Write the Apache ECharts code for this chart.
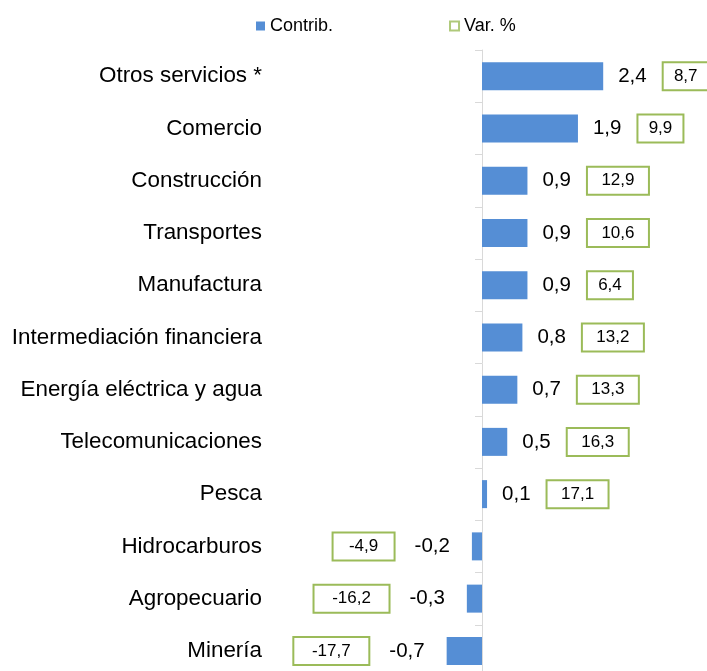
<!DOCTYPE html>
<html>
<head>
<meta charset="utf-8">
<script src="https://cdn.jsdelivr.net/npm/echarts@6/dist/echarts.min.js"></script>
<style>
  html, body { margin: 0; padding: 0; background: #fff; overflow: hidden; }
  #chart { width: 707px; height: 680px; }
</style>
</head>
<body>
<div id="chart"></div>
<script>
// sectores, de arriba hacia abajo
var sectores = ['Otros servicios *', 'Comercio', 'Construcción', 'Transportes', 'Manufactura',
  'Intermediación financiera', 'Energía eléctrica y agua', 'Telecomunicaciones', 'Pesca',
  'Hidrocarburos', 'Agropecuario', 'Minería'];
// contribución (puntos porcentuales)
var contrib = [2.4, 1.9, 0.9, 0.9, 0.9, 0.8, 0.7, 0.5, 0.1, -0.2, -0.3, -0.7];
// variación %
var variacion = [8.7, 9.9, 12.9, 10.6, 6.4, 13.2, 13.3, 16.3, 17.1, -4.9, -16.2, -17.7];

var AZUL = '#558ED5';
var VERDE = '#9BBB59';
var FUENTE = "'Liberation Sans', Arial, sans-serif";

const fmt = v => v.toFixed(1).replace('.', ',');

// caja de la variación, ancho segun el largo del texto
function caja(w) {
  return {
    fontSize: 17, fontFamily: FUENTE, color: '#000',
    borderColor: VERDE, borderWidth: 2,
    width: w, align: 'center', verticalAlign: 'middle',
    height: 24, lineHeight: 24, padding: [2, 11]
  };
}

const chart = echarts.init(document.getElementById('chart'));

const option = {
  animation: false,
  textStyle: { fontFamily: FUENTE },
  legend: {
    left: 251,
    top: 12,
    itemGap: 116,
    itemWidth: 9,
    itemHeight: 9,
    textStyle: { fontSize: 18, color: '#000', fontFamily: FUENTE },
    data: [
      { name: 'Contrib.', icon: 'rect', itemStyle: { color: AZUL } },
      { name: 'Var. %', icon: 'rect', itemStyle: { color: '#fff', borderColor: VERDE, borderWidth: 2 } }
    ]
  },
  grid: { left: 280, width: 404, top: 50, height: 627 },
  xAxis: {
    type: 'value',
    min: -4,
    max: 4,
    show: false
  },
  yAxis: [
    {
      // etiquetas a la izquierda del area
      type: 'category',
      data: sectores,
      inverse: true,
      axisLine: { show: false, onZero: false },
      axisTick: { show: false },
      axisLabel: { margin: 18, fontSize: 22.4, color: '#000', fontFamily: FUENTE }
    },
    {
      // eje en cero con marcas
      type: 'category',
      data: sectores,
      inverse: true,
      position: 'left',
      axisLine: { show: true, onZero: true, lineStyle: { color: '#D9D9D9', width: 1 } },
      axisTick: { show: true, length: 7, lineStyle: { color: '#D9D9D9' } },
      axisLabel: { show: false }
    }
  ],
  series: [
    {
      name: 'Contrib.',
      type: 'bar',
      barWidth: 28,
      itemStyle: { color: AZUL },
      data: contrib.map((v, i) => ({
        value: v,
        label: {
          show: true,
          position: v >= 0 ? 'right' : 'left',
          distance: v >= 0 ? 15 : 22,
          formatter: () => {
            const t = fmt(variacion[i]);
            const b = 'b' + t.length;
            return v >= 0
              ? '{v|' + fmt(v) + '}{' + b + '|' + t + '}'
              : '{' + b + '|' + t + '}{w|' + fmt(v) + '}';
          },
          rich: {
            v: { fontSize: 20.5, color: '#000', fontFamily: FUENTE, verticalAlign: 'middle', padding: [0, 16, 0, 0] },
            w: { fontSize: 20.5, color: '#000', fontFamily: FUENTE, verticalAlign: 'middle', padding: [0, 0, 0, 20] },
            b3: caja(24),
            b4: caja(40),
            b5: caja(54)
          }
        }
      }))
    },
    {
      name: 'Var. %',
      type: 'scatter',
      data: []
    }
  ]
};

chart.setOption(option);
window.addEventListener('resize', () => chart.resize());
</script>
</body>
</html>
